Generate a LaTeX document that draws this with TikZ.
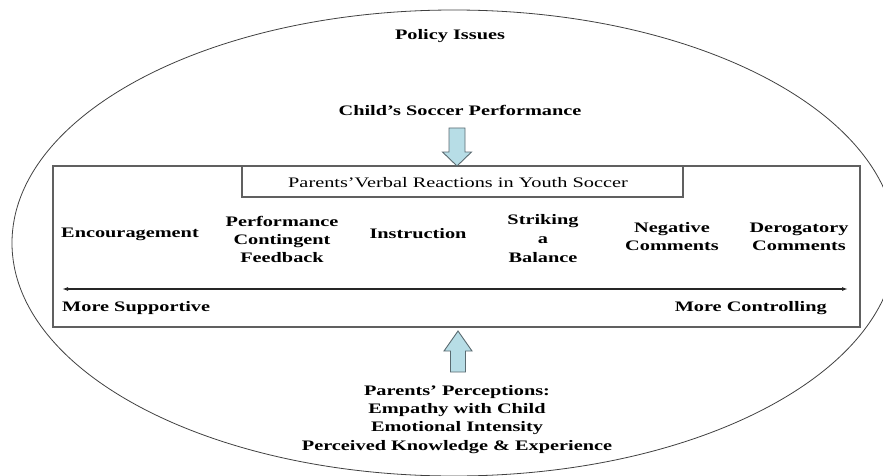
\documentclass[tikz,border=0pt]{standalone}
\usepackage{fontspec}
\setmainfont[FakeStretch=1.4]{Liberation Serif}
\usetikzlibrary{arrows.meta}
\definecolor{arrowfill}{HTML}{B7DDE6}
\definecolor{arrowline}{HTML}{5A6A70}
\definecolor{frame}{HTML}{606060}
\tikzset{
  txt/.style={font=\fontsize{14.5}{18}\selectfont\bfseries, inner sep=0pt, align=center, anchor=base},
  plain/.style={font=\fontsize{14.5}{18}\selectfont, inner sep=0pt, anchor=base},
  blockarrow/.style={fill=arrowfill, draw=arrowline, line width=0.9pt, line join=miter},
  boxframe/.style={draw=frame, line width=1.1pt},
}
\begin{document}
\begin{tikzpicture}[x=1pt,y=-1pt]
\useasboundingbox (0,0) rectangle (883,476);
\clip (0,0) rectangle (883,476);
% outer ellipse
\draw[draw=black!75, line width=0.8pt] (454,243) ellipse [x radius=442, y radius=233];
% texts
\node[txt] (policy) at (450,40) {Policy Issues};
\node[txt] (child) at (460,116) {Child’s Soccer Performance};
% main frame and title
\draw[boxframe] (53,166) rectangle (860,327);
\coordinate (frameS) at (458,327);
\draw[boxframe, fill=white] (242,166) rectangle (683,197);
\coordinate (titleN) at (457,166);
\node[plain] (title) at (458,187) {Parents’Verbal Reactions in Youth Soccer};
% categories (base = baseline of last line)
\node[txt] (enc) at (130,237) {Encouragement};
\node[txt] (pcf) at (282,262) {Performance\\Contingent\\Feedback};
\node[txt] (ins) at (418,238) {Instruction};
\node[txt, font=\fontsize{14.5}{19}\selectfont\bfseries] (sab) at (543,262) {Striking\\a\\Balance};
\node[txt] (neg) at (672,250) {Negative\\Comments};
\node[txt] (der) at (799,250) {Derogatory\\Comments};
% continuum
\coordinate (cl) at (62,289);
\coordinate (cr) at (848,289);
\draw[line width=1.8pt, black!85, {Latex[length=6pt,width=4pt]}-{Latex[length=6pt,width=4pt]}] (cl) -- (cr);
\node[txt, anchor=base west] (sup) at (62,311) {More Supportive};
\node[txt, anchor=base east] (con) at (827,311) {More Controlling};
% bottom text
\node[txt, font=\fontsize{14.5}{18.3}\selectfont\bfseries] (perc) at (457,450) {Parents’ Perceptions:\\Empathy with Child\\Emotional Intensity\\Perceived Knowledge \& Experience};
% down block arrow
\draw[blockarrow] ([shift={(-8,-38)}]titleN) -- ([shift={(8,-38)}]titleN) -- ([shift={(8,-14)}]titleN)
  -- ([shift={(14.5,-14)}]titleN) -- (titleN) -- ([shift={(-14.5,-14)}]titleN) -- ([shift={(-8,-14)}]titleN) -- cycle;
% up block arrow
\draw[blockarrow] ([shift={(-7.5,45)}]frameS) -- ([shift={(7.5,45)}]frameS) -- ([shift={(7.5,24)}]frameS)
  -- ([shift={(14,24)}]frameS) -- ([shift={(0,4)}]frameS) -- ([shift={(-14,24)}]frameS) -- ([shift={(-7.5,24)}]frameS) -- cycle;
\end{tikzpicture}
\end{document}
